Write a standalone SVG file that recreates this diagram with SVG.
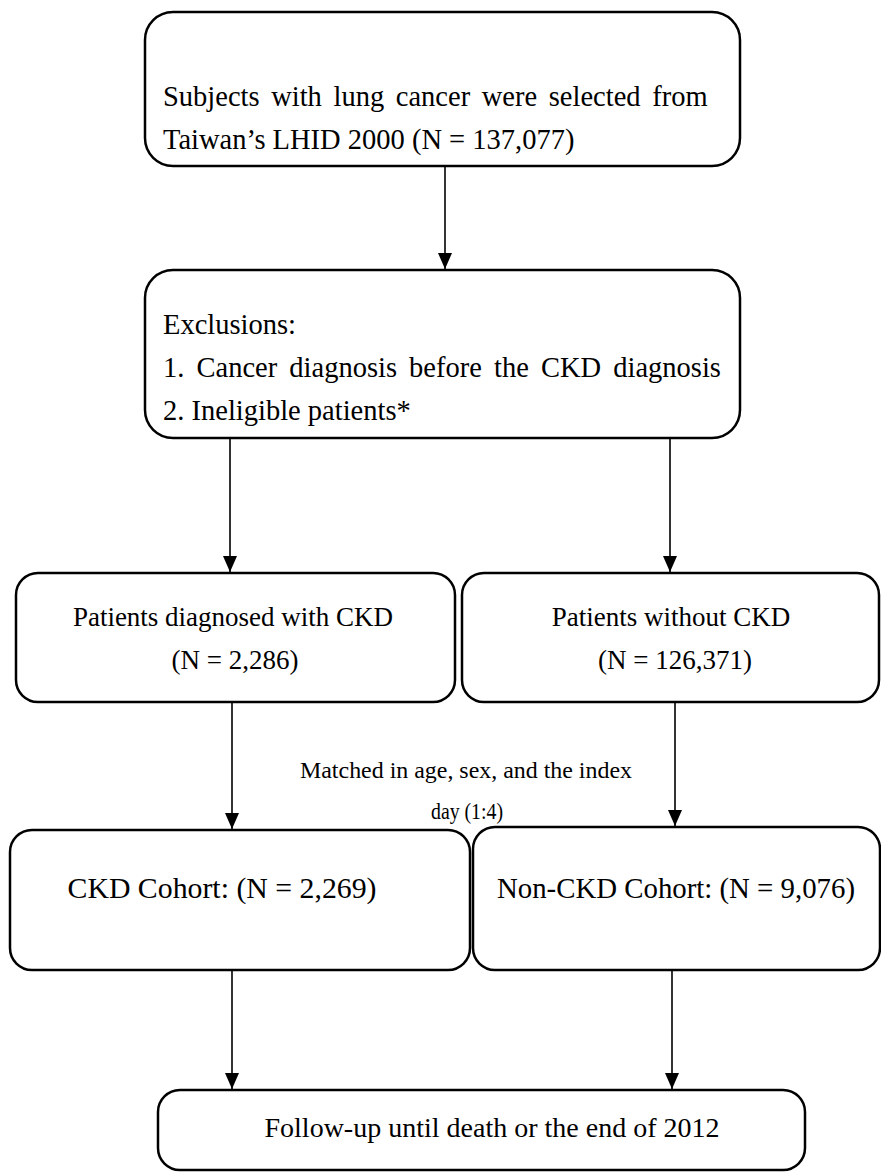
<svg xmlns="http://www.w3.org/2000/svg" width="881" height="1174" viewBox="0 0 881 1174">
<defs>
<style>
.box{fill:#fff;stroke:#000;stroke-width:2.5}
.t{font-family:"Liberation Serif","Times New Roman",serif;font-size:27px;fill:#000}
.b{font-family:"Liberation Serif","Times New Roman",serif;font-size:28.5px;fill:#000}
.c{font-family:"Liberation Serif","Times New Roman",serif;font-size:29.5px;fill:#000}
.s{font-family:"Liberation Serif","Times New Roman",serif;font-size:23px;fill:#000}
.ln{stroke:#000;stroke-width:1.6;fill:none}
</style>
<marker id="ah" viewBox="0 0 16 14" refX="16" refY="7" markerWidth="16" markerHeight="14" markerUnits="userSpaceOnUse" orient="auto">
<path d="M0,0 L16,7 L0,14 Z" fill="#000"/>
</marker>
</defs>
<rect width="881" height="1174" fill="#fff"/>
<g id="connectors">
<line class="ln" x1="445" y1="166" x2="445" y2="269" marker-end="url(#ah)"/>
<line class="ln" x1="230" y1="438" x2="230" y2="572" marker-end="url(#ah)"/>
<line class="ln" x1="670" y1="438" x2="670" y2="572" marker-end="url(#ah)"/>
<line class="ln" x1="232" y1="702" x2="232" y2="829" marker-end="url(#ah)"/>
<line class="ln" x1="675" y1="702" x2="675" y2="826" marker-end="url(#ah)"/>
<line class="ln" x1="232" y1="970" x2="232" y2="1089" marker-end="url(#ah)"/>
<line class="ln" x1="672" y1="970" x2="672" y2="1089" marker-end="url(#ah)"/>
</g>
<g id="n1">
<rect class="box" x="145" y="12" width="595" height="154" rx="28"/>
<text class="b" x="163" y="106" word-spacing="4.5">Subjects with lung cancer were selected from</text>
<text class="b" x="163" y="149">Taiwan’s LHID 2000 (N = 137,077)</text>
</g>
<g id="n2">
<rect class="box" x="145" y="270" width="595" height="168" rx="28"/>
<text class="b" x="163" y="334">Exclusions:</text>
<text class="b" x="163" y="377" word-spacing="5">1. Cancer diagnosis before the CKD diagnosis</text>
<text class="b" x="163" y="420">2. Ineligible patients*</text>
</g>
<g id="n3">
<rect class="box" x="16" y="573" width="439" height="129" rx="22"/>
<text class="t" x="233" y="626" text-anchor="middle">Patients diagnosed with CKD</text>
<text class="t" x="235" y="669" text-anchor="middle">(N = 2,286)</text>
</g>
<g id="n4">
<rect class="box" x="462" y="573" width="417" height="129" rx="22"/>
<text class="t" x="671" y="626" text-anchor="middle">Patients without CKD</text>
<text class="t" x="675" y="669" text-anchor="middle">(N = 126,371)</text>
</g>
<g id="label">
<text class="s" x="466" y="778" text-anchor="middle" textLength="332" lengthAdjust="spacingAndGlyphs">Matched in age, sex, and the index</text>
<text class="s" x="467" y="819" text-anchor="middle" textLength="72" lengthAdjust="spacingAndGlyphs">day (1:4)</text>
</g>
<g id="n5">
<rect class="box" x="10" y="830" width="460" height="140" rx="22"/>
<text class="c" x="222" y="898" text-anchor="middle" textLength="309" lengthAdjust="spacingAndGlyphs">CKD Cohort: (N = 2,269)</text>
</g>
<g id="n6">
<rect class="box" x="473" y="827" width="407" height="143" rx="22"/>
<text class="c" x="676" y="898" text-anchor="middle" textLength="358" lengthAdjust="spacingAndGlyphs">Non-CKD Cohort: (N = 9,076)</text>
</g>
<g id="n7">
<rect class="box" x="158" y="1090" width="647" height="80" rx="22"/>
<text class="t" x="492" y="1137" text-anchor="middle" textLength="455" lengthAdjust="spacingAndGlyphs">Follow-up until death or the end of 2012</text>
</g>
</svg>
